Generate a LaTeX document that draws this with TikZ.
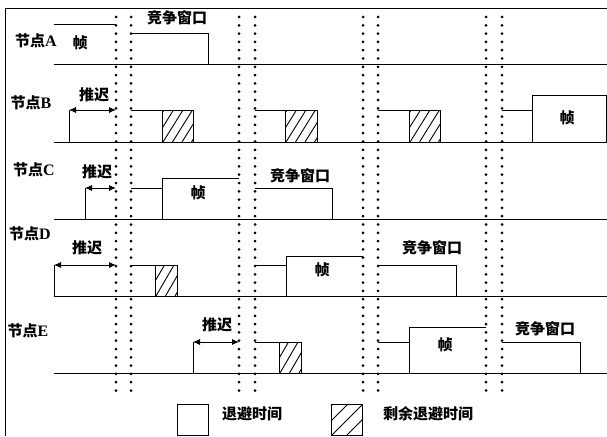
\documentclass[tikz,border=0pt]{standalone}
\usepackage{fontspec}
\setmainfont{Liberation Serif}
\newfontfamily\cjk{Noto Sans CJK SC}
\usetikzlibrary{arrows.meta}
\newcommand\lat[1]{{\rmfamily\bfseries\fontsize{16}{16}\selectfont #1}}
% hatched box: x1,y1,x2,y2 (y down), dx of a stripe, spacing, first offset
\newcommand\hatchrect[7]{%
  \draw (#1,#2) rectangle (#3,#4);
  \begin{scope}
    \clip (#1,#2) rectangle (#3,#4);
    \foreach \k in {-2,-1,0,1,2,3} \draw (#1+#7+\k*#6,#4) -- ++(#5,#2-#4);
  \end{scope}}
\begin{document}
\begin{tikzpicture}[x=1pt,y=-1pt,line width=0.9pt,
  dotmark/.style={fill=black},
  lbl/.style={inner sep=0pt,font=\cjk\bfseries\fontsize{15}{15}\selectfont},
  deferarrow/.style={{Latex[length=7pt,width=6pt]}-{Latex[length=7pt,width=6pt]}}]
\useasboundingbox (0,0) rectangle (607,436);
% frame
\draw (5,436) -- (5,8) -- (607,8);

% ---------- node A
\draw (54,64) -- (607,64);
\draw (54,24) -- (116,24);
\draw (131,33) -- (208,33) -- (208,64);
\node[lbl] (lA) at (36,41) {节点\lat{A}};
\node[lbl] (fA) at (80,43) {帧};
\node[lbl] (cwA) at (177,18) {竞争窗口};

% ---------- node B
\draw (54,142) -- (607,142);
\draw (69,142) -- (69,110);
\coordinate (bL) at (69,110);
\coordinate (bR) at (116,110);
\draw[deferarrow] (bL) -- (bR);
\node[lbl] (lB) at (31,103) {节点\lat{B}};
\node[lbl] (dB) at (94,95) {推迟};
\draw (131,110) -- (162,110);
\hatchrect{162}{110}{193}{142}{20}{9.5}{1}
\draw (255,110) -- (285,110);
\hatchrect{285}{110}{317}{142}{20}{9.5}{1}
\draw (378,110) -- (409,110);
\hatchrect{409}{110}{440}{142}{20}{9.5}{1}
\draw (502,110) -- (532,110);
\draw (532,142) -- (532,95) -- (606,95) -- (606,142);
\node[lbl] (fB) at (567,118) {帧};

% ---------- node C
\draw (54,219) -- (607,219);
\draw (85,219) -- (85,188);
\coordinate (cL) at (85,188);
\coordinate (cR) at (116,188);
\draw[deferarrow] (cL) -- (cR);
\node[lbl] (lC) at (34,170) {节点\lat{C}};
\node[lbl] (dC) at (97,172) {推迟};
\draw (131,188) -- (162,188);
\draw (162,219) -- (162,178) -- (239,178);
\node[lbl] (fC) at (198,193) {帧};
\draw (255,188) -- (332,188) -- (332,219);
\node[lbl] (cwC) at (300,176) {竞争窗口};

% ---------- node D
\draw (54,296) -- (607,296);
\draw (54,296) -- (54,265);
\coordinate (dL) at (54,265);
\coordinate (dR) at (116,265);
\draw[deferarrow] (dL) -- (dR);
\node[lbl] (lD) at (30,234) {节点\lat{D}};
\node[lbl] (dD) at (87,248) {推迟};
\draw (131,265) -- (155,265);
\hatchrect{155}{265}{177}{296}{18}{9.5}{1}
\draw (255,265) -- (286,265);
\draw (286,296) -- (286,256) -- (363,256);
\node[lbl] (fD) at (322,270) {帧};
\draw (378,265) -- (456,265) -- (456,296);
\node[lbl] (cwD) at (432,248) {竞争窗口};

% ---------- node E
\draw (54,373) -- (607,373);
\draw (193,373) -- (193,342);
\coordinate (eL) at (193,342);
\coordinate (eR) at (239,342);
\draw[deferarrow] (eL) -- (eR);
\node[lbl] (lE) at (28,331) {节点\lat{E}};
\node[lbl] (dE) at (217,325) {推迟};
\draw (255,342) -- (279,342);
\hatchrect{279}{342}{301}{373}{18}{9.5}{1}
\draw (378,342) -- (409,342);
\draw (409,373) -- (409,327) -- (486,327);
\node[lbl] (fE) at (445,345) {帧};
\draw (502,342) -- (580,342) -- (580,373);
\node[lbl] (cwE) at (545,329) {竞争窗口};

% ---------- legend
\draw (177,404) rectangle (208,435);
\node[lbl] (lg1) at (252,414) {退避时间};
\hatchrect{331}{404}{362}{435}{31}{15}{1}
\node[lbl] (lg2) at (428,414) {剩余退避时间};

% ---------- dotted slot boundaries
\foreach \x in {116,131,239,255,363,378,486,502}
  \foreach \i in {0,...,45}
    \fill[dotmark] (\x,17+\i*8.3) circle (1.5pt);
\end{tikzpicture}
\end{document}
